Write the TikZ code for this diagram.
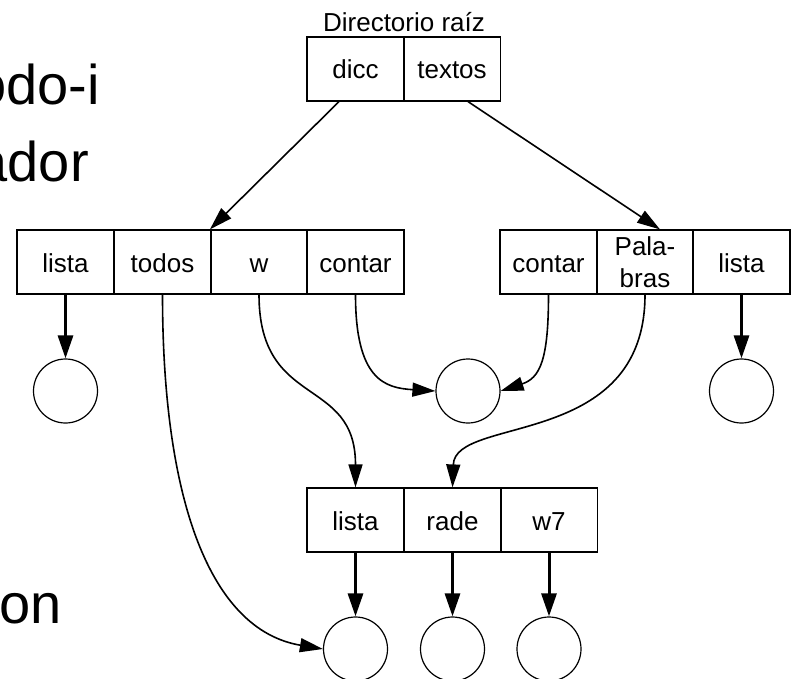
\documentclass[tikz,border=0pt]{standalone}
\usepackage{fontspec}
\setmainfont{Liberation Sans}
\usetikzlibrary{arrows.meta}
\begin{document}
\begin{tikzpicture}[x=1pt,y=-1pt,
  cell/.style={draw,line width=1.2pt,minimum width=97pt,minimum height=64pt,inner sep=0pt,
    text height=21pt,text depth=1pt,align=center,font=\fontsize{26}{32}\selectfont},
  ring/.style={draw,line width=1.2pt,circle,minimum size=64pt,inner sep=0pt},
  bigtxt/.style={anchor=base east,inner sep=0pt,font=\fontsize{56}{60}\selectfont},
  lbl/.style={anchor=base,inner sep=0pt,font=\fontsize{26}{30}\selectfont},
  thickarr/.style={line width=3pt,-{Triangle[length=23pt,width=15pt]}},
  thinarr/.style={line width=1.6pt,-{Triangle[length=23pt,width=14pt]}}]
\useasboundingbox (0,0) rectangle (792,679);
\clip (0,0) rectangle (792,679);
% partial slide text
\node[bigtxt] (t1) at (100,105) {odo-i};
\node[bigtxt] (t2) at (89,182) {ador};
\node[bigtxt] (t3) at (62,623) {on};
% root directory
\node[lbl] (rootlbl) at (404,32) {Directorio raíz};
\node[cell] (dicc) at (355.5,69) {dicc};
\node[cell] (textos) at (452,69) {textos};
% left directory
\node[cell] (llista) at (65.5,262) {lista};
\node[cell] (todos) at (162.5,262) {todos};
\node[cell] (w) at (259,262) {w};
\node[cell] (lcontar) at (355.5,262) {contar};
% right directory
\node[cell] (rcontar) at (548.5,262) {contar};
\node[cell,text height=51pt] (palabras) at (645,262) {Pala-\\bras};
\node[cell] (rlista) at (741.5,262) {lista};
% bottom directory
\node[cell] (blista) at (355.5,520) {lista};
\node[cell] (rade) at (452.5,520) {rade};
\node[cell] (w7) at (549,520) {w7};
% files
\node[ring] (c1) at (65.5,391) {};
\node[ring] (c2) at (468,391) {};
\node[ring] (c3) at (741.5,391) {};
\node[ring] (c4) at (355.5,649) {};
\node[ring] (c5) at (452.5,649) {};
\node[ring] (c6) at (549,649) {};
% connectors
\draw[thinarr] ([xshift=-16.5pt]dicc.south) -- (w.north west);
\draw[thinarr] ([xshift=16pt]textos.south) -- ([xshift=15pt]palabras.north);
\draw[thickarr] (llista.south) -- (c1.north);
\draw[thickarr] (rlista.south) -- (c3.north);
\draw[thickarr] (blista.south) -- (c4.north);
\draw[thickarr] (rade.south) -- (c5.north);
\draw[thickarr] (w7.south) -- (c6.north);
\draw[thinarr] (todos.south) .. controls (162.5,500) and (210,630) .. (c4.west);
\draw[thinarr] (w.south) .. controls (259,410) and (355.5,375) .. (blista.north);
\draw[thinarr] (lcontar.south) .. controls (355.5,380) and (385,388) .. (c2.west);
\draw[thinarr] (rcontar.south) .. controls (548.5,360) and (540,378) .. (c2.east);
\draw[thinarr] (palabras.south) .. controls (645,450) and (455,415) .. (rade.north);
\end{tikzpicture}
\end{document}
